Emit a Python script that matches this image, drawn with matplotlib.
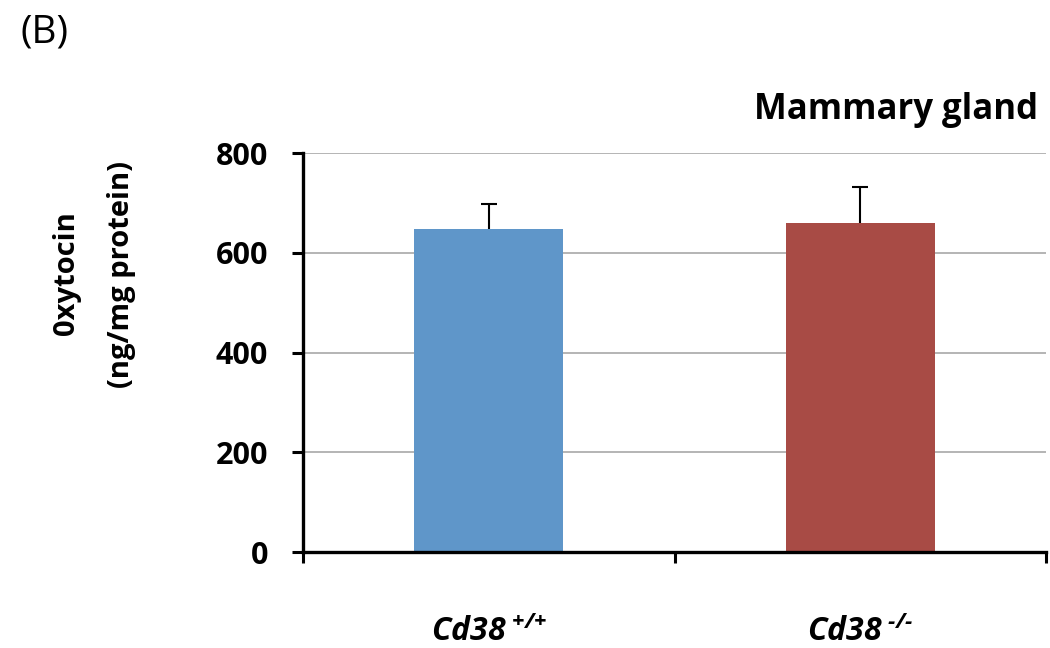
import matplotlib
matplotlib.use("Agg")
import matplotlib.pyplot as plt

categories = [r"$\mathit{Cd38}^{\ \text{+/+}}$", r"$\mathit{Cd38}^{\ \text{-/-}}$"]
values = [648, 660]
errors = [50, 72]
colors = ["#5F96C9", "#A84B45"]
yticks = [0, 200, 400, 600, 800]

plt.rcParams["font.family"] = ["Open Sans", "DejaVu Sans"]
plt.rcParams["mathtext.fontset"] = "custom"
plt.rcParams["mathtext.it"] = "Open Sans:bold:italic"
plt.rcParams["mathtext.rm"] = "Open Sans:bold:italic"
plt.rcParams["mathtext.bf"] = "Open Sans:bold:italic"

fig = plt.figure(figsize=(10.5, 6.48), dpi=100)
W, H = 1050, 648
ax = fig.add_axes([303 / W, 1 - 552 / H, (1046 - 303) / W, (552 - 153) / H])

x = list(range(len(values)))
ax.bar(x, values, width=0.40, color=colors, zorder=2)
eb = ax.errorbar(x, values, yerr=[[0] * len(values), errors], fmt="none",
                 ecolor="black", elinewidth=1.5, capsize=6, capthick=1.5, zorder=3)
# hide the lower caps (one-sided error bars)
caplines = eb.lines[1]
if len(caplines) >= 2:
    caplines[0].set_visible(False)

ax.set_xlim(-0.5, len(values) - 0.5)
ax.set_ylim(0, 800)
ax.set_yticks(yticks)
ax.set_yticklabels([str(v) for v in yticks], fontsize=22, fontweight="bold")
ax.yaxis.grid(True, color="#A0A0A0", linewidth=1.1, zorder=0)
ax.set_axisbelow(True)

ax.set_xticks(x)
ax.set_xticklabels(categories, fontsize=23)
ax.set_xticks([-0.5, 0.5, 1.5], minor=True)
ax.tick_params(axis="x", which="major", length=0, pad=46)
ax.tick_params(axis="x", which="minor", length=8, width=2.2, direction="out")
ax.tick_params(axis="y", length=8, width=2.2, direction="out", pad=17)

for s in ["top", "right"]:
    ax.spines[s].set_visible(False)
for s in ["left", "bottom"]:
    ax.spines[s].set_linewidth(2.4)
    ax.spines[s].set_color("black")

fig.text(1038 / W, 1 - 110 / H, "Mammary gland", ha="right", va="center",
         fontsize=25, fontweight="bold")
fig.text(20 / W, 1 - 33 / H, "(B)", ha="left", va="center", fontsize=28)
fig.text(67 / W, 1 - 273 / H, "0xytocin", ha="center", va="center",
         rotation=90, fontsize=21, fontweight="bold")
fig.text(122 / W, 1 - 275 / H, "(ng/mg protein)", ha="center", va="center",
         rotation=90, fontsize=21, fontweight="bold")

fig.savefig("out.png", dpi=100)
